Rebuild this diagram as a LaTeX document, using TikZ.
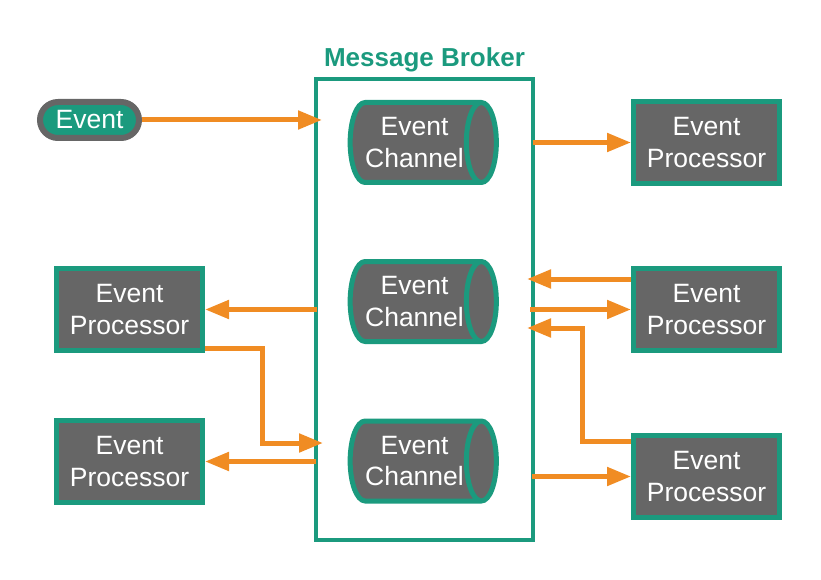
\documentclass[tikz,border=0pt]{standalone}
\usepackage{fontspec}
\setmainfont{Liberation Sans}
\usetikzlibrary{arrows.meta, shapes.geometric, positioning}
\definecolor{brokerteal}{HTML}{1B9A7E}
\definecolor{boxgray}{HTML}{666666}
\definecolor{floworange}{HTML}{F08C23}
\tikzset{
  lbl/.style={text=white, align=center, font=\fontsize{26.5}{31.5}\selectfont},
  evproc/.style={lbl, draw=brokerteal, fill=boxgray, line width=5pt, minimum width=146pt, minimum height=82pt, inner sep=0pt},
  channel/.style={lbl, cylinder, draw=brokerteal, fill=boxgray, line width=5pt, shape aspect=0.6, minimum height=145pt, minimum width=80pt, inner sep=0pt},
  evpill/.style={lbl, draw=boxgray, fill=brokerteal, line width=6pt, rounded corners=18pt, minimum width=99pt, minimum height=36pt, inner sep=0pt},
  broker/.style={draw=brokerteal, line width=4pt, minimum width=217pt, minimum height=461pt},
  flow/.style={floworange, line width=5pt, -{Triangle[length=24pt,width=18pt]}},
}
\begin{document}
\begin{tikzpicture}[x=1pt, y=-1pt]
\useasboundingbox (0,0) rectangle (821,580);

\node[broker] (mb) at (424.5,309.5) {};
\node[above=1pt of mb, font=\fontsize{26}{30}\selectfont\bfseries, text=brokerteal] (mbtitle) {Message Broker};

\node[evpill] (ev) at (89.5,120) {Event};

\node[channel] (ch1) at (414.5,142.5) {Event\\Channel};
\node[channel] (ch2) at (414.5,301.5) {Event\\Channel};
\node[channel] (ch3) at (414.5,461) {Event\\Channel};

\node[evproc] (p1) at (706.5,142.5) {Event\\Processor};
\node[evproc] (p2) at (706.5,309.5) {Event\\Processor};
\node[evproc] (p3) at (706.5,476.5) {Event\\Processor};
\node[evproc] (q1) at (129.5,309.5) {Event\\Processor};
\node[evproc] (q2) at (129.5,461.5) {Event\\Processor};

\coordinate (inev) at (322,120);
\coordinate (outp1) at (533,142.5);
\coordinate (inp2) at (527,279);
\coordinate (outp2) at (530,309.5);
\coordinate (inp3) at (527,328);
\coordinate (outp3) at (532,476.5);
\coordinate (outq1) at (317,309.5);
\coordinate (inq1) at (323,443);
\coordinate (outq2) at (316,461.5);

\draw[flow] (ev.east) -- (inev);
\draw[flow] (outp1) -- (p1.west);
\draw[flow] ([yshift=30.5pt]p2.west) -- (inp2);
\draw[flow] (outp2) -- (p2.west);
\draw[flow] ([yshift=35.5pt]p3.west) -| (582,328) -- (inp3);
\draw[flow] (outp3) -- (p3.west);
\draw[flow] (outq1) -- (q1.east);
\draw[flow] ([yshift=-38.5pt]q1.east) -| (262,443) -- (inq1);
\draw[flow] (outq2) -- (q2.east);
\end{tikzpicture}
\end{document}
